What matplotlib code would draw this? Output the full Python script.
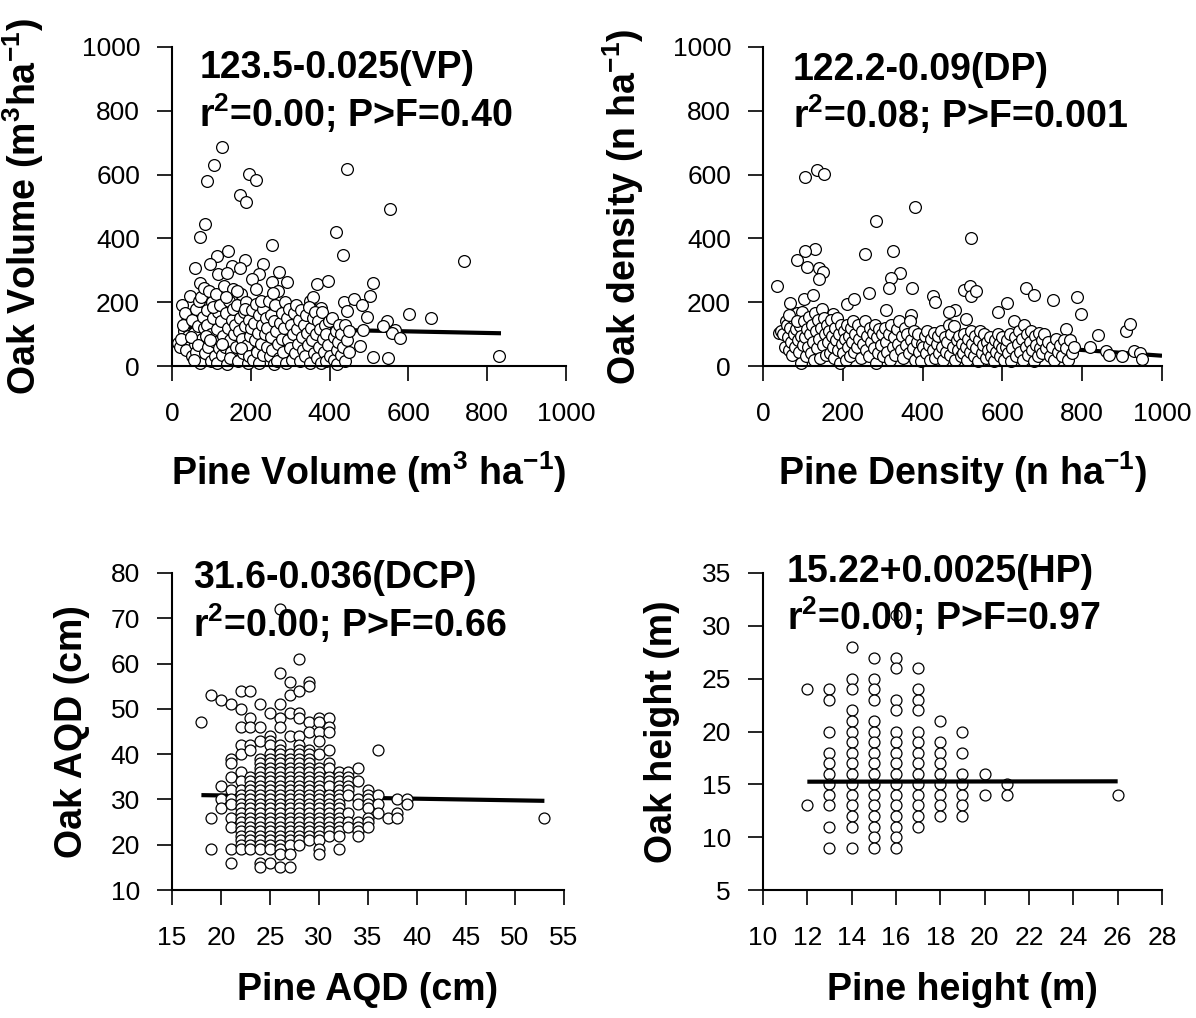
import matplotlib
matplotlib.use("Agg")
import matplotlib.pyplot as plt

plt.rcParams['font.family'] = ['Liberation Sans', 'DejaVu Sans']
plt.rcParams['mathtext.fontset'] = 'custom'
plt.rcParams['mathtext.rm'] = 'Liberation Sans:bold'
plt.rcParams['mathtext.default'] = 'rm'

# ---- panel 1: volume (pine m3/ha, oak m3/ha) ----
vol_pairs = [
    (126, 687), (107, 629), (89, 581), (196, 603), (212, 582), (172, 537), (188, 513),
    (444, 619), (85, 445), (70, 405), (554, 493), (416, 419), (433, 349), (741, 329),
    (141, 359), (113, 346), (186, 333), (255, 378), (96, 320), (59, 307), (118, 289),
    (152, 315), (172, 306), (140, 293), (232, 320), (221, 289), (272, 295), (292, 264),
    (255, 262), (204, 272), (368, 257), (397, 267), (511, 260), (502, 221), (436, 200),
    (462, 210), (481, 191), (601, 163), (657, 151), (545, 140), (486, 113), (567, 113),
    (558, 103), (579, 89), (478, 63), (511, 29), (548, 26), (829, 31), (535, 124),
    (496, 153), (445, 171), (350, 205), (358, 215), (379, 181),
    (15, 72), (20, 60), (25, 190), (30, 110), (35, 50), (38, 140), (40, 95), (28, 130),
    (22, 85), (33, 165),
    (45, 220), (50, 30), (52, 145), (55, 105), (58, 70), (60, 180), (62, 45), (65, 125),
    (68, 205), (70, 10), (72, 260), (75, 85), (78, 155), (48, 90), (56, 20), (66, 65),
    (74, 215), (80, 120),
    (82, 245), (85, 40), (88, 175), (90, 130), (92, 60), (95, 235), (98, 15), (100, 100),
    (102, 200), (105, 150), (108, 75), (110, 30), (112, 225), (115, 115), (118, 170),
    (120, 55), (86, 95), (96, 80), (104, 185), (114, 10),
    (122, 190), (125, 140), (128, 35), (130, 95), (132, 250), (135, 60), (138, 165),
    (140, 5), (142, 120), (145, 205), (148, 80), (150, 45), (152, 145), (155, 240),
    (158, 100), (126, 70), (136, 215), (146, 25), (156, 180), (160, 130),
    (162, 60), (165, 190), (168, 15), (170, 110), (172, 150), (175, 225), (178, 85),
    (180, 40), (182, 170), (185, 125), (188, 200), (190, 65), (192, 10), (195, 145),
    (198, 95), (166, 235), (176, 55), (186, 180), (196, 30), (200, 120),
    (202, 175), (205, 20), (208, 135), (210, 80), (212, 195), (215, 45), (218, 105),
    (220, 160), (222, 10), (225, 70), (228, 130), (230, 180), (232, 35), (235, 100),
    (238, 150), (240, 60), (214, 240), (226, 205),
    (242, 120), (245, 205), (248, 30), (250, 90), (252, 160), (255, 50), (258, 140),
    (260, 5), (262, 190), (265, 110), (268, 70), (270, 235), (272, 25), (275, 135),
    (278, 85), (280, 165), (256, 230), (266, 15),
    (282, 45), (285, 120), (288, 200), (290, 10), (292, 150), (295, 80), (298, 180),
    (300, 55), (302, 130), (305, 20), (308, 100), (310, 165), (312, 40), (315, 190),
    (318, 115), (320, 70),
    (322, 145), (325, 15), (328, 175), (330, 90), (332, 50), (335, 130), (338, 30),
    (340, 160), (342, 105), (345, 65), (348, 185), (350, 10), (352, 120), (355, 80),
    (358, 150), (360, 40),
    (362, 170), (365, 100), (368, 25), (370, 140), (372, 60), (375, 115), (378, 10),
    (380, 170), (382, 85), (385, 45), (388, 130), (390, 15), (392, 100), (395, 65),
    (398, 140), (400, 30),
    (405, 150), (410, 90), (412, 20), (415, 110), (418, 50), (420, 5), (422, 75),
    (425, 130), (428, 35), (430, 100), (435, 60), (438, 15), (440, 130), (445, 80),
    (448, 45), (450, 110),
]
vol_fit = (123.5, -0.025, 15, 835)

# ---- panel 2: density (pine n/ha, oak n/ha) ----
den_pairs = [
    (106, 592), (136, 613), (153, 601), (380, 500), (283, 455), (521, 402), (130, 366),
    (105, 361), (325, 359), (255, 350), (86, 332), (110, 311), (141, 306), (151, 296),
    (141, 274), (344, 291), (320, 276), (317, 245), (373, 245), (36, 251), (104, 210),
    (125, 222), (265, 229), (425, 220), (430, 200), (211, 195), (228, 209), (505, 239),
    (519, 252), (521, 220), (533, 234), (659, 246), (680, 222), (611, 198), (728, 208),
    (787, 215), (797, 164), (909, 110), (920, 132), (840, 96), (819, 59), (859, 46),
    (867, 34), (900, 30), (929, 46), (945, 42), (950, 21), (590, 168), (481, 177),
    (467, 170), (309, 177), (67, 196), (175, 162), (508, 147), (370, 159), (760, 117),
    (40, 105), (45, 110), (50, 100), (55, 60), (58, 140), (60, 130), (62, 90), (65, 50),
    (68, 120), (70, 75), (72, 35), (75, 150), (78, 100), (80, 60), (82, 115), (85, 165),
    (88, 80), (90, 45), (92, 125), (95, 10), (96, 95), (98, 170), (100, 65), (66, 160),
    (84, 140),
    (102, 140), (105, 90), (108, 30), (110, 115), (112, 60), (115, 155), (118, 100),
    (120, 40), (122, 130), (125, 75), (128, 20), (130, 165), (132, 110), (135, 55),
    (138, 145), (140, 85), (142, 25), (145, 120), (148, 180), (150, 65), (152, 150),
    (155, 100), (158, 35), (160, 130),
    (162, 75), (165, 110), (168, 40), (170, 145), (172, 95), (175, 60), (178, 25),
    (180, 120), (182, 80), (185, 150), (188, 50), (190, 100), (192, 10), (195, 130),
    (198, 70), (200, 40), (202, 110), (205, 85), (208, 20), (210, 130), (212, 60),
    (215, 95), (218, 30), (220, 120),
    (222, 75), (225, 140), (228, 45), (230, 100), (235, 60), (238, 130), (240, 85),
    (245, 25), (248, 110), (250, 70), (255, 140), (258, 50), (260, 95), (265, 30),
    (268, 120), (270, 75), (275, 105), (278, 55), (280, 130), (282, 10), (285, 90),
    (288, 40), (290, 115), (295, 65), (298, 100), (300, 30),
    (305, 120), (308, 75), (312, 45), (315, 100), (318, 20), (322, 130), (325, 60),
    (328, 90), (332, 35), (335, 115), (338, 70), (342, 140), (345, 50), (348, 95),
    (352, 25), (355, 120), (358, 65), (362, 100), (365, 40), (368, 140), (372, 80),
    (375, 55), (378, 110), (382, 20), (385, 75), (388, 100), (392, 45), (395, 15),
    (398, 70), (400, 60),
    (405, 95), (408, 40), (412, 110), (415, 65), (418, 20), (422, 85), (425, 50),
    (428, 105), (432, 25), (435, 70), (438, 95), (442, 40), (445, 110), (448, 60),
    (452, 20), (455, 90), (458, 45), (462, 75), (465, 130), (468, 35), (472, 100),
    (475, 60), (478, 125), (482, 20), (485, 80), (488, 50), (492, 95), (495, 30),
    (498, 70), (500, 40),
    (505, 100), (508, 60), (512, 20), (515, 85), (518, 45), (522, 110), (525, 70),
    (528, 30), (532, 95), (535, 55), (538, 15), (542, 80), (545, 110), (548, 40),
    (552, 65), (555, 100), (558, 25), (562, 75), (565, 50), (568, 90), (572, 30),
    (575, 60), (578, 15), (582, 80), (585, 45), (588, 100), (592, 70), (595, 30),
    (598, 55), (600, 90),
    (605, 20), (608, 60), (612, 80), (615, 40), (618, 100), (622, 15), (625, 55),
    (628, 140), (632, 90), (635, 30), (638, 70), (642, 110), (645, 45), (648, 85),
    (652, 20), (655, 130), (658, 60), (662, 100), (665, 35), (668, 75), (672, 110),
    (675, 50), (678, 15), (682, 95), (685, 65), (688, 30), (692, 105), (695, 55),
    (698, 80), (700, 40),
    (705, 100), (710, 55), (715, 75), (720, 30), (725, 60), (730, 20), (735, 85),
    (740, 45), (745, 65), (750, 30), (755, 80), (760, 55), (765, 20), (770, 80),
    (775, 40), (780, 60),
]
den_fit = (122.2, -0.09, 40, 1000)

# ---- panel 3: AQD (pine cm -> oak cm values) ----
aqd_cols = {
    18: [47],
    19: [53, 26, 19],
    20: [52, 33, 30, 28],
    21: [51, 39, 38, 35, 32, 30, 29, 26, 24, 19, 16],
    22: [54, 50, 46, 42, 40, 36, 34, 32, 31, 30, 29, 28, 27, 26, 25, 24, 23, 22, 21, 20, 19],
    23: [54, 48, 46, 42, 41, 35, 34, 33, 32, 31, 30, 29, 28, 27, 26, 25, 24, 23, 22, 21, 20, 19],
    24: [51, 46, 43, 39, 38, 37, 36, 35, 34, 33, 32, 31, 30, 29, 28, 27, 26, 25, 24, 23, 22,
         21, 20, 19, 16, 15],
    25: [49, 44, 43, 42, 40, 39, 38, 37, 36, 35, 34, 33, 32, 31, 30, 29, 28, 27, 26, 25, 24,
         23, 22, 21, 20, 19, 16],
    26: [72, 58, 51, 48, 46, 42, 41, 40, 39, 38, 37, 36, 35, 34, 33, 32, 31, 30, 29, 28, 27,
         26, 25, 24, 23, 22, 21, 20, 19, 18, 15],
    27: [56, 53, 49, 44, 40, 39, 38, 37, 36, 35, 34, 33, 32, 31, 30, 29, 28, 27, 26, 25, 24,
         23, 22, 21, 20, 18, 15],
    28: [61, 54, 49, 48, 44, 42, 41, 40, 39, 38, 37, 36, 35, 34, 33, 32, 31, 30, 29, 28, 27,
         26, 25, 24, 23, 22, 21, 20],
    29: [56, 55, 47, 45, 41, 40, 39, 38, 37, 36, 35, 34, 33, 32, 31, 30, 29, 28, 27, 26, 25,
         24, 23, 22, 21],
    30: [48, 47, 45, 43, 40, 37, 36, 35, 34, 33, 32, 31, 30, 29, 28, 27, 26, 25, 24, 23, 22,
         21, 19, 18],
    31: [48, 46, 45, 41, 38, 37, 35, 34, 33, 31, 30, 29, 28, 27, 26, 25, 24, 23, 22],
    32: [36, 35, 34, 33, 32, 31, 30, 29, 28, 27, 26, 25, 24, 23, 22, 19],
    33: [36, 35, 34, 33, 32, 31, 27, 25, 24],
    34: [37, 34, 30, 29, 25, 24, 23, 22],
    35: [32, 31, 30, 29, 28, 26, 25, 24],
    36: [41, 31, 29, 27],
    37: [26],
    38: [30, 27, 26],
    39: [30, 29],
    53: [26],
}
aqd_fit = (31.6, -0.036, 18, 53)

# ---- panel 4: height (pine m -> oak m values) ----
hgt_cols = {
    12: [24, 13],
    13: [24, 23, 20, 18, 17, 16, 15, 14, 13, 11, 9],
    14: [28, 25, 24, 22, 21, 20, 19, 18, 17, 16, 15, 14, 13, 12, 11, 9],
    15: [27, 25, 24, 23, 21, 20, 19, 18, 17, 16, 15, 14, 13, 12, 11, 10, 9],
    16: [31, 27, 26, 23, 22, 20, 19, 18, 17, 16, 15, 14, 13, 12, 11, 10, 9],
    17: [26, 24, 23, 22, 20, 19, 18, 17, 16, 15, 14, 13, 12, 11],
    18: [21, 19, 18, 17, 16, 15, 14, 13, 12],
    19: [20, 18, 16, 15, 14, 13, 12],
    20: [16, 14],
    21: [15, 14],
    26: [14],
}
hgt_fit = (15.22, 0.0025, 12, 26)

W, H = 1196, 1018
fig = plt.figure(figsize=(W / 100, H / 100), dpi=100)


def make_ax(x0, y_top, x1, y_bot):
    return fig.add_axes([x0 / W, 1 - y_bot / H, (x1 - x0) / W, (y_bot - y_top) / H])


def style(ax, xlim, xticks, ylim, yticks, xlabel, ylabel, ylab_x, xlab_y):
    ax.set_xlim(*xlim)
    ax.set_ylim(*ylim)
    ax.set_xticks(xticks)
    ax.set_yticks(yticks)
    for s in ('top', 'right'):
        ax.spines[s].set_visible(False)
    for s in ('left', 'bottom'):
        ax.spines[s].set_linewidth(1.5)
    ax.tick_params(direction='out', length=11, width=1.2, labelsize=19)
    ax.tick_params(axis='x', pad=15)
    ax.tick_params(axis='y', pad=12)
    ax.set_xlabel(xlabel, fontsize=27, fontweight='bold')
    ax.set_ylabel(ylabel, fontsize=27, fontweight='bold')
    ax.yaxis.set_label_coords(ylab_x, 0.5)
    ax.xaxis.set_label_coords(0.5, xlab_y)


def fit_line(ax, fit, z):
    a, b, lo, hi = fit
    ax.plot([lo, hi], [a + b * lo, a + b * hi], color='black', lw=3, zorder=z,
            solid_capstyle='butt')


def notes(ax, l1, l2, x, y1, y2):
    ax.text(x, y1, l1, transform=ax.transAxes, fontsize=27, fontweight='bold',
            va='baseline', ha='left')
    ax.text(x, y2, l2, transform=ax.transAxes, fontsize=27, fontweight='bold',
            va='baseline', ha='left')


def cols_to_xy(cols):
    xs, ys = [], []
    for k, vals in cols.items():
        xs += [k] * len(vals)
        ys += vals
    return xs, ys


mk = dict(facecolor='white', edgecolor='black', linewidths=0.9, clip_on=False)

# panel 1
ax1 = make_ax(172, 47, 566, 366)
fit_line(ax1, vol_fit, 1)
ax1.scatter([p[0] for p in vol_pairs], [p[1] for p in vol_pairs], s=72, zorder=2, **mk)
style(ax1, (0, 1000), range(0, 1001, 200), (0, 1000), range(0, 1001, 200),
      'Pine Volume (m$^{3}$ ha$^{-1}$)', 'Oak Volume (m$^{3}$ha$^{-1}$)', -0.32, -0.26)
notes(ax1, '123.5-0.025(VP)', 'r$^{2}$=0.00; P>F=0.40', 0.069, 0.903, 0.749)

# panel 2
ax2 = make_ax(763, 47, 1162, 366)
fit_line(ax2, den_fit, 1)
ax2.scatter([p[0] for p in den_pairs], [p[1] for p in den_pairs], s=72, zorder=2, **mk)
style(ax2, (0, 1000), range(0, 1001, 200), (0, 1000), range(0, 1001, 200),
      'Pine Density (n ha$^{-1}$)', 'Oak density (n ha$^{-1}$)', -0.293, -0.26)
notes(ax2, '122.2-0.09(DP)', 'r$^{2}$=0.08; P>F=0.001', 0.075, 0.897, 0.746)

# panel 3
ax3 = make_ax(172, 573, 564, 890)
fit_line(ax3, aqd_fit, 1)
x3, y3 = cols_to_xy(aqd_cols)
ax3.scatter(x3, y3, s=62, zorder=2, **mk)
style(ax3, (15, 55), range(15, 56, 5), (10, 80), range(10, 81, 10),
      'Pine AQD (cm)', 'Oak AQD (cm)', -0.209, -0.26)
notes(ax3, '31.6-0.036(DCP)', 'r$^{2}$=0.00; P>F=0.66', 0.054, 0.953, 0.798)

# panel 4
ax4 = make_ax(763, 573, 1162, 890)
x4, y4 = cols_to_xy(hgt_cols)
ax4.scatter(x4, y4, s=62, zorder=2, **mk)
fit_line(ax4, hgt_fit, 3)
style(ax4, (10, 28), range(10, 29, 2), (5, 35), range(5, 36, 5),
      'Pine height (m)', 'Oak height (m)', -0.208, -0.26)
notes(ax4, '15.22+0.0025(HP)', 'r$^{2}$=0.00; P>F=0.97', 0.06, 0.972, 0.82)

fig.savefig('out.png', dpi=100)
